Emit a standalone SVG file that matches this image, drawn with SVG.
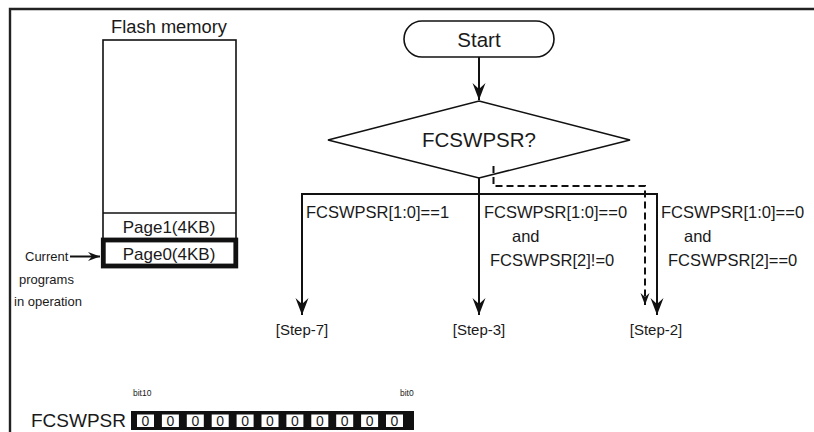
<svg xmlns="http://www.w3.org/2000/svg" width="814" height="432" viewBox="0 0 814 432">
<defs>
<style>
text{font-family:"Liberation Sans",Arial,sans-serif;fill:#1a1a1a}
.ln{fill:none;stroke:#111;stroke-width:2}
.th{fill:none;stroke:#111;stroke-width:1.6}
.lbl{font-size:16.5px}
.step{font-size:15px;text-anchor:middle}
.sm{font-size:13px}
.bit{font-size:8.5px}
.dig{font-size:14px;text-anchor:middle}
</style>
<marker id="ah" viewBox="-17 -7 18 14" refX="0" refY="0" markerWidth="18" markerHeight="14" markerUnits="userSpaceOnUse" orient="auto">
<path d="M0,0 L-17,-6.5 L-11,0 L-17,6.5 Z" fill="#111"/>
</marker>
<marker id="ahs" viewBox="-13 -5 14 10" refX="0" refY="0" markerWidth="14" markerHeight="10" markerUnits="userSpaceOnUse" orient="auto">
<path d="M0,0 L-12,-4.5 L-8,0 L-12,4.5 Z" fill="#111"/>
</marker>
</defs>
<rect width="814" height="432" fill="#fff"/>
<path d="M10,440 L10,9 L820,9" fill="none" stroke="#222" stroke-width="2.4"/>

<g id="flash-memory">
<text x="169" y="33" font-size="18.3px" text-anchor="middle">Flash memory</text>
<rect x="103" y="40" width="133" height="227" class="th"/>
<line x1="103" y1="213" x2="236" y2="213" class="th"/>
<text x="169" y="233" font-size="17px" text-anchor="middle">Page1(4KB)</text>
</g>
<g id="page0">
<rect x="103.3" y="240" width="132.5" height="26" fill="#fff" stroke="#111" stroke-width="4.8"/>
<text x="169" y="259.5" font-size="17px" text-anchor="middle">Page0(4KB)</text>
</g>
<g id="current-label">
<text x="25" y="261" class="sm">Current</text>
<text x="19" y="284" class="sm">programs</text>
<text x="14" y="306" class="sm">in operation</text>
</g>

<g id="start">
<rect x="404" y="21" width="150" height="36" rx="18" ry="18" class="th"/>
<text x="479" y="47" font-size="20.5px" text-anchor="middle">Start</text>
</g>
<g id="decision">
<polygon points="479,101 630,140 479,178 328,140" class="th"/>
<text x="479" y="147" font-size="20.5px" text-anchor="middle">FCSWPSR?</text>
</g>

<g id="connectors">
<line x1="70" y1="256.5" x2="100" y2="256.5" class="ln" marker-end="url(#ahs)"/>
<line x1="479" y1="57" x2="479" y2="100" class="ln" marker-end="url(#ah)"/>
<line x1="479" y1="178" x2="479" y2="194" class="ln"/>
<polyline points="302,194 657,194" class="ln"/>
<path d="M302,193 L302,315" class="ln" marker-end="url(#ah)"/>
<path d="M479,194 L479,315" class="ln" marker-end="url(#ah)"/>
<path d="M657,193 L657,315" class="ln" marker-end="url(#ah)"/>
<path d="M493.5,166 L493.5,186 L645,186 L645,305" fill="none" stroke="#111" stroke-width="2" stroke-dasharray="7,4" marker-end="url(#ahs)"/>
</g>

<g id="cond-left">
<text x="306" y="218" class="lbl">FCSWPSR[1:0]==1</text>
</g>
<g id="cond-mid">
<text x="484" y="218" class="lbl">FCSWPSR[1:0]==0</text>
<text x="512" y="242" class="lbl">and</text>
<text x="490" y="266" class="lbl">FCSWPSR[2]!=0</text>
</g>
<g id="cond-right">
<text x="661" y="218" class="lbl">FCSWPSR[1:0]==0</text>
<text x="684" y="242" class="lbl">and</text>
<text x="668" y="266" class="lbl">FCSWPSR[2]==0</text>
</g>

<g id="step-7"><text x="302" y="335" class="step">[Step-7]</text></g>
<g id="step-3"><text x="479" y="335" class="step">[Step-3]</text></g>
<g id="step-2"><text x="656" y="335" class="step">[Step-2]</text></g>

<g id="register">
<text x="31" y="427" font-size="19px">FCSWPSR</text>
<text x="133" y="396" class="bit">bit10</text>
<text x="400" y="396" class="bit">bit0</text>
<rect x="131" y="411" width="283" height="19" fill="#111"/>
<g fill="#fff">
<rect x="137" y="414.5" width="17" height="12.5"/>
<rect x="161.9" y="414.5" width="17" height="12.5"/>
<rect x="186.8" y="414.5" width="17" height="12.5"/>
<rect x="211.7" y="414.5" width="17" height="12.5"/>
<rect x="236.6" y="414.5" width="17" height="12.5"/>
<rect x="261.5" y="414.5" width="17" height="12.5"/>
<rect x="286.4" y="414.5" width="17" height="12.5"/>
<rect x="311.3" y="414.5" width="17" height="12.5"/>
<rect x="336.2" y="414.5" width="17" height="12.5"/>
<rect x="361.1" y="414.5" width="17" height="12.5"/>
<rect x="386" y="414.5" width="17" height="12.5"/>
</g>
<text x="145.5" y="426" class="dig">0</text>
<text x="170.4" y="426" class="dig">0</text>
<text x="195.3" y="426" class="dig">0</text>
<text x="220.2" y="426" class="dig">0</text>
<text x="245.1" y="426" class="dig">0</text>
<text x="270" y="426" class="dig">0</text>
<text x="294.9" y="426" class="dig">0</text>
<text x="319.8" y="426" class="dig">0</text>
<text x="344.7" y="426" class="dig">0</text>
<text x="369.6" y="426" class="dig">0</text>
<text x="394.5" y="426" class="dig">0</text>
</g>
</svg>
